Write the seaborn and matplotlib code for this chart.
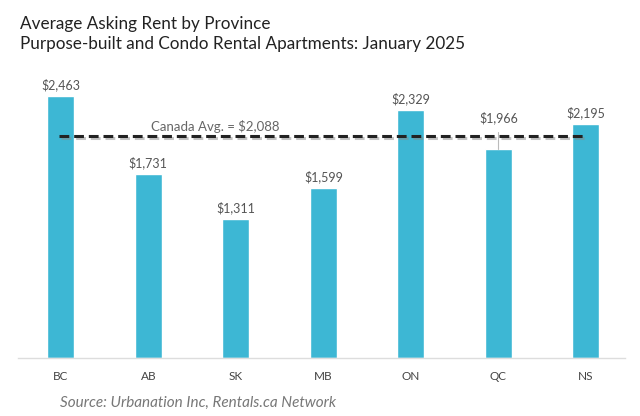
import matplotlib
matplotlib.use("Agg")
import matplotlib.pyplot as plt
import matplotlib.patheffects as pe
import seaborn as sns
import pandas as pd

provinces = ["BC", "AB", "SK", "MB", "ON", "QC", "NS"]
rents = [2463, 1731, 1311, 1599, 2329, 1966, 2195]
labels = ["$2,463", "$1,731", "$1,311", "$1,599", "$2,329", "$1,966", "$2,195"]
canada_avg = 2088
avg_label = "Canada Avg. = $2,088"
title1 = "Average Asking Rent by Province"
title2 = "Purpose-built and Condo Rental Apartments: January 2025"
source = "Source: Urbanation Inc, Rentals.ca Network"

sns.set_theme(style="white")
plt.rcParams['font.family'] = ['Lato', 'DejaVu Sans']

df = pd.DataFrame({"province": provinces, "rent": rents})

fig = plt.figure(figsize=(6.4, 4.16), dpi=100)
ax = fig.add_axes([0.028, 0.139, 0.949, 0.681])
sns.barplot(data=df, x="province", y="rent", color="#3DB7D4", saturation=1,
            width=0.31, ax=ax)

ax.set_xlim(-0.49, 6.45)
ax.set_ylim(0, 2660)
ax.set_xlabel("")
ax.set_ylabel("")
ax.set_yticks([])
for s in ["top", "right", "left"]:
    ax.spines[s].set_visible(False)
ax.spines["bottom"].set_color("#dddddd")
ax.spines["bottom"].set_linewidth(1)
ax.tick_params(axis="x", length=0, pad=9, labelsize=8.5, labelcolor="#444444")

for i, (v, lab) in enumerate(zip(rents, labels)):
    if provinces[i] == "QC":
        ax.plot([i, i], [v, v + 160], color="#bbbbbb", lw=0.8, zorder=1)
        ax.text(i, v + 230, lab, ha="center", va="bottom", fontsize=9, color="#555555")
    else:
        ax.text(i, v + 45, lab, ha="center", va="bottom", fontsize=9, color="#555555")

ax.plot([-0.02, 5.98], [canada_avg, canada_avg], color="#222222", lw=2.2,
        linestyle=(0, (3.2, 1.6)), zorder=5,
        path_effects=[pe.SimpleLineShadow(offset=(1.2, -1.5), shadow_color="#888888", alpha=0.5),
                      pe.Normal()])
ax.text(1.77, canada_avg + 25, avg_label, ha="center", va="bottom", fontsize=9.5,
        color="#666666", zorder=6)

fig.text(0.031, 0.943, title1, ha="left", va="center", fontsize=12.3, color="#222222")
fig.text(0.031, 0.894, title2, ha="left", va="center", fontsize=12.3, color="#222222")
fig.text(0.093, 0.032, source, ha="left", va="center", fontsize=11, color="#777777",
         style="italic")

fig.savefig("out.png", dpi=100)
